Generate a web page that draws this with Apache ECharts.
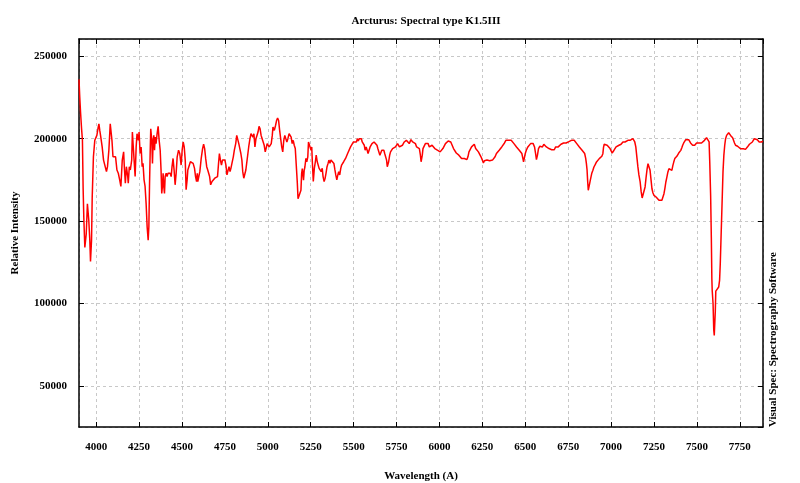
<!DOCTYPE html>
<html>
<head>
<meta charset="utf-8">
<title>Arcturus spectrum</title>
<script src="https://cdn.jsdelivr.net/npm/echarts@6/dist/echarts.min.js"></script>
<style>
  html, body { margin: 0; padding: 0; background: #fff; }
  #chart { width: 800px; height: 483px; }
</style>
</head>
<body>
<div id="chart"></div>
<script>
// spectrum: wavelength (A) and relative intensity
const wavelength = [
  3900,3904,3909,3915,3920,3924,3928,3934,3942,3949,
  3957,3963,3967,3973,3977,3984,3992,4004,4012,4016,
  4021,4027,4035,4043,4051,4060,4066,4074,4082,4086,
  4092,4098,4105,4113,4121,4129,4137,4144,4152,4160,
  4164,4170,4176,4184,4187,4193,4199,4207,4211,4215,
  4221,4227,4233,4238,4246,4250,4256,4262,4268,4273,
  4279,4285,4291,4297,4303,4307,4311,4315,4318,4324,
  4328,4332,4336,4340,4344,4349,4355,4361,4367,4373,
  4378,4382,4386,4390,4394,4398,4402,4408,4413,4419,
  4425,4431,4437,4442,4448,4454,4460,4466,4472,4480,
  4487,4495,4501,4507,4513,4519,
  4524,4530,4534,4542,4549,4557,4565,4573,4579,4585,
  4589,4592,4598,4604,4612,4620,4626,4632,4638,4644,
  4650,4655,4661,4667,4675,4683,4691,4699,4707,4713,
  4718,4724,4730,4736,4744,4750,4756,4762,4768,4774,
  4780,4785,4791,4799,4805,4813,4819,4825,4831,4837,
  4843,4849,4854,4860,4866,4872,4878,4884,4890,4896,
  4902,4908,4913,4919,4925,4931,4937,4943,4949,4955,
  4961,4967,4973,4979,4985,4990,4996,5002,5008,5014,
  5020,5026,5030,5034,5038,5042,5045,5051,5057,5063,
  5069,5075,5081,5087,5093,5099,5105,5111,5117,5124,
  5130,5136,5142,5148,5154,5160,5166,
  5172,5176,5182,5187,5193,5197,5201,5204,5208,5212,
  5216,5222,5227,5233,5237,5242,5248,5252,5256,5259,
  5265,5271,5277,5282,5288,5294,5299,5305,5311,5317,
  5322,5328,5334,5339,5345,5351,5356,5362,5368,5374,
  5379,5385,5391,5396,5402,5408,5413,5419,5425,5430,
  5436,5442,5448,5453,5459,5465,5470,5476,5482,5488,
  5493,5499,5505,5510,5516,5522,5527,5533,5539,5545,
  5550,5556,5562,5567,5573,5579,5584,5590,5596,5601,
  5607,5613,5619,5624,5630,5636,5641,5647,5653,5658,
  5664,5670,5676,5681,5687,5692,5696,5700,5704,5710,
  5715,5721,5727,5733,5738,5744,5750,5756,5761,5767,
  5773,5778,5784,5790,5795,5801,5807,5813,5818,5824,
  5830,
  5834,5844,5853,5860,5867,5875,5883,5889,5893,5896,
  5900,5904,5910,5918,5926,5934,5941,5949,5957,5965,
  5973,5980,5988,5996,6004,6012,6020,6027,6035,6043,
  6051,6059,6066,6074,6082,6090,6098,6105,6113,6121,
  6129,6137,6145,6152,6160,6166,6172,6180,6187,6195,
  6203,6211,6219,6227,6234,6242,6250,6256,6262,6270,
  6277,6285,6293,6301,6309,6316,6324,6332,6340,6348,
  6355,6363,6371,6379,6387,6395,6402,6410,6418,6426,
  6434,6441,6449,6457,6465,6473,6480,6486,6490,6494,
  6500,6506,
  6515,6523,6531,6538,6546,6554,6560,6565,6571,6577,
  6585,6592,6600,6608,6615,6623,6631,6638,6646,6654,
  6662,6669,6677,6685,6692,6700,6708,6715,6723,6731,
  6738,6746,6754,6762,6769,6777,6785,6792,6800,6808,
  6815,6823,6831,6838,6846,6852,6856,6860,6863,6867,
  6871,6875,6879,6883,6888,6894,6900,6908,6915,6923,
  6931,6938,6946,6952,6956,6960,6965,6971,6977,6983,
  6988,6994,7000,7006,7012,7017,7023,7029,7035,7040,
  7046,7052,7058,7063,7069,7075,7081,7087,7092,7098,
  7104,7110,7115,7121,7127,7133,7138,7144,7150,7156,
  7162,
  7169,7175,7181,7187,7192,7198,7204,7210,7215,7221,
  7227,7233,7238,7244,7250,7256,7262,7267,7273,7279,
  7285,7290,7296,7302,7308,7313,7319,7325,7331,7337,
  7342,7348,7354,7360,7365,7371,7377,7383,7388,7394,
  7400,7406,7412,7417,7423,7429,7435,7440,7446,7452,
  7458,7463,7469,7475,7481,7487,7492,7498,7504,7510,
  7515,7521,7527,7533,7538,7544,7550,7556,7561,7567,
  7571,7575,7580,7584,7587,7589,7594,7598,7601,7604,
  7607,7610,7615,7621,7627,7632,7636,7640,7644,7648,
  7652,7657,7662,7667,7673,7679,7685,7690,7696,7702,
  7708,7713,7719,7725,7731,7737,7742,7748,7754,7760,
  7765,7771,7777,7783,7788,7794,7800,7806,7812,7817,
  7823,7829,7835,7840,7846,7852,7858,7863,7869,7875,
  7879,7885
];

const intensity = [
  236000,226000,216000,206000,199000,170000,152000,134000,142000,160500,
  150500,138400,125500,138400,164600,189000,199000,202000,207000,209000,
  205000,201000,195000,187000,187000,180000,183000,193000,209000,210000,
  199000,189000,188000,189000,181000,179000,175000,171000,187000,192000,
  183000,173000,183000,177000,173000,183000,181000,187000,204000,197000,
  187000,177000,195000,203000,199000,204000,191000,195000,183000,185000,
  175000,171000,160600,146500,138400,146500,173000,193000,206000,199000,
  185000,199000,202000,193000,201000,197000,203000,207500,199000,193000,
  181000,166700,171000,179000,171000,166700,177000,179000,177000,179000,
  178000,179000,177000,183000,188000,181000,172000,179000,189000,193000,
  191000,184000,193000,198000,195000,187000,
  169000,175000,181000,182000,186000,187000,185000,182000,177000,174000,
  179000,174000,175000,180000,188000,194000,196600,194000,188000,183000,
  181000,182000,177000,172000,174000,175000,176000,176000,177000,185000,
  191000,187000,184000,187000,188000,187000,184000,178000,179000,183000,
  180000,182000,185000,189000,193000,197000,202000,201000,197000,194000,
  191000,187000,180000,176000,177000,181000,186000,191000,196000,200000,
  203000,202400,201000,203000,195000,200000,199000,204000,207500,206000,
  202000,200000,199400,196000,192000,194000,197000,196000,195000,194000,
  197000,202000,207000,208000,205000,206000,208000,211000,212500,211000,
  205000,200000,195000,192000,199000,202000,201000,198000,200000,203000,
  204000,201000,197000,199000,196000,194000,193000,
  173000,163600,162600,164600,168700,178800,181800,182800,174800,180800,
  182800,188000,186000,189000,198000,199000,198000,193000,195000,187000,
  174000,182000,186000,190000,186000,187000,182000,183000,180000,182000,
  177000,174000,176000,179000,183000,185000,187000,185000,187000,188000,
  187000,185000,181000,178000,175000,178000,180000,178000,182000,184000,
  183000,186000,186000,188000,189000,191000,190000,192000,195000,196000,
  195000,198000,197000,199000,198000,200000,198600,200000,200600,200000,
  198000,197000,196000,193000,195000,193000,191000,193000,195000,196000,
  197000,197400,198000,197000,197400,196000,194000,195000,190000,191000,
  193000,193000,193000,191000,190000,187000,183000,183000,186000,190000,
  192000,193000,194000,195000,195000,195000,196000,197000,197400,195000,
  194000,195000,196000,197000,198000,198600,199000,198600,198000,197000,
  196000,
  199400,198000,199000,197000,195000,196000,194000,190000,186000,185000,
  190000,194000,195000,197000,196000,197000,195000,194000,196000,195000,
  194000,193300,193000,192500,192000,193000,194000,195000,197000,198000,
  198600,197400,198000,197000,194000,193000,191300,191000,190000,189000,
  188000,189000,188000,189000,187300,189000,192000,193000,195000,196000,
  196600,194000,193000,192000,191000,189000,187000,185300,186600,186000,
  187000,186000,186600,186000,187000,188000,189000,191000,192000,193000,
  194000,195000,196000,197400,199000,198600,199000,198600,199000,198000,
  197000,196000,195000,194000,193000,192000,191000,188000,186000,187000,
  191000,193000,
  195000,196000,197000,196000,197000,195000,191000,187300,190000,194000,
  195400,196000,195000,196600,197000,195000,194000,194000,194300,193300,
  194000,193300,195000,195400,195000,196000,196600,196000,197400,198000,
  197400,197800,198200,198000,199000,198600,199000,198000,197000,196000,
  195000,194000,193000,192000,191000,188000,185000,181000,175000,168700,
  169100,172700,174800,176800,179200,180800,182800,184400,185900,186900,
  187900,188500,189300,190900,194900,196600,197000,196600,196000,196000,
  195000,194000,193000,191300,192000,193000,194000,195000,196000,195400,
  196000,197000,196600,197400,198000,197400,198000,198600,198000,199000,
  198600,199000,199400,199000,200000,199400,198000,195000,189000,183000,
  178000,
  174000,168000,164000,163000,164600,170700,176700,181800,184800,184400,
  180800,174700,169600,167000,165600,165600,164600,165000,163600,162600,
  161500,161500,162600,164600,166600,169600,173700,176700,179800,181800,
  180800,181800,180800,183800,185800,187900,188900,189300,189900,191300,
  191900,192900,194500,196000,197400,198600,199400,199800,200000,199400,
  198600,197400,196600,196000,195400,196000,197000,197400,197000,197400,
  198000,197800,197400,198000,198600,199000,200000,200600,201000,200600,
  198000,185000,165000,140000,115000,108000,100000,84000,80600,81000,
  95000,107500,107900,108300,110000,114000,124000,138000,152000,166000,
  180000,190000,196000,200000,202000,203000,203600,203600,202000,201000,
  200600,199400,197400,196000,195400,195400,194900,195400,193900,193300,
  193300,193900,193300,193500,193900,194900,196000,196600,196000,197400,
  198000,199000,200000,199400,200000,199400,199000,198000,198600,198000,
  198400,198400
];

const titleText = "Arcturus: Spectral type K1.5III";
const xName = "Wavelength (A)";
const yName = "Relative Intensity";
const creditText = "Visual Spec: Spectrography Software";

const serif = '"Liberation Serif", "Times New Roman", serif';
const boldText = { fontFamily: serif, fontWeight: "bold", fontSize: 11, color: "#000" };

const chart = echarts.init(document.getElementById("chart"), null, { renderer: "canvas" });

const points = wavelength.map((w, i) => [w, intensity[i]]);

// frame, inward ticks and dashed grid, like the original plot
const frameLine = { show: true, onZero: false, lineStyle: { color: "#000", width: 1.5 } };
const innerTick = { show: true, inside: true, length: 5, lineStyle: { color: "#000", width: 1 } };
const gridLine = { show: true, lineStyle: { color: "#c8c8c8", type: [3, 3], width: 1 } };
const plainNumber = (v) => String(v);

const xRange = { type: "value", min: 3900, max: 7885, minInterval: 250, maxInterval: 250 };
const yRange = { type: "value", min: 25000, max: 260500, minInterval: 50000, maxInterval: 50000 };

const option = {
  animation: false,
  backgroundColor: "#fff",
  title: {
    text: titleText,
    left: 421,
    textAlign: "center",
    top: 11,
    textStyle: { ...boldText }
  },
  // fixed plot box; do not let the labels push it around
  grid: { left: 79, right: 37, top: 39, bottom: 56, containLabel: false, outerBoundsMode: "none" },
  xAxis: [
    {
      ...xRange,
      position: "bottom",
      axisLine: frameLine,
      axisTick: innerTick,
      axisLabel: { ...boldText, margin: 15, formatter: plainNumber, showMinLabel: false, showMaxLabel: false },
      splitLine: gridLine,
      name: xName,
      nameLocation: "middle",
      nameGap: 44,
      nameTextStyle: { ...boldText }
    },
    {
      ...xRange,
      position: "top",
      axisLine: frameLine,
      axisTick: innerTick,
      axisLabel: { show: false },
      splitLine: { show: false }
    }
  ],
  yAxis: [
    {
      ...yRange,
      position: "left",
      axisLine: frameLine,
      axisTick: innerTick,
      axisLabel: { ...boldText, margin: 12, formatter: plainNumber, showMinLabel: false, showMaxLabel: false },
      splitLine: gridLine,
      name: yName,
      nameLocation: "middle",
      nameGap: 58,
      nameTextStyle: { ...boldText }
    },
    {
      ...yRange,
      position: "right",
      axisLine: frameLine,
      axisTick: innerTick,
      axisLabel: { show: false },
      splitLine: { show: false }
    }
  ],
  graphic: [
    {
      type: "text",
      x: 773,
      y: 427,
      rotation: Math.PI / 2,
      style: {
        text: creditText,
        font: 'bold 11px "Liberation Serif", serif',
        fill: "#000",
        textAlign: "left",
        textVerticalAlign: "middle"
      }
    }
  ],
  series: [
    {
      name: "Arcturus",
      type: "line",
      xAxisIndex: 0,
      yAxisIndex: 0,
      data: points,
      showSymbol: false,
      symbol: "none",
      lineStyle: { color: "#ff0000", width: 1.5 },
      itemStyle: { color: "#ff0000" },
      z: 3
    }
  ]
};

chart.setOption(option);
</script>
</body>
</html>
